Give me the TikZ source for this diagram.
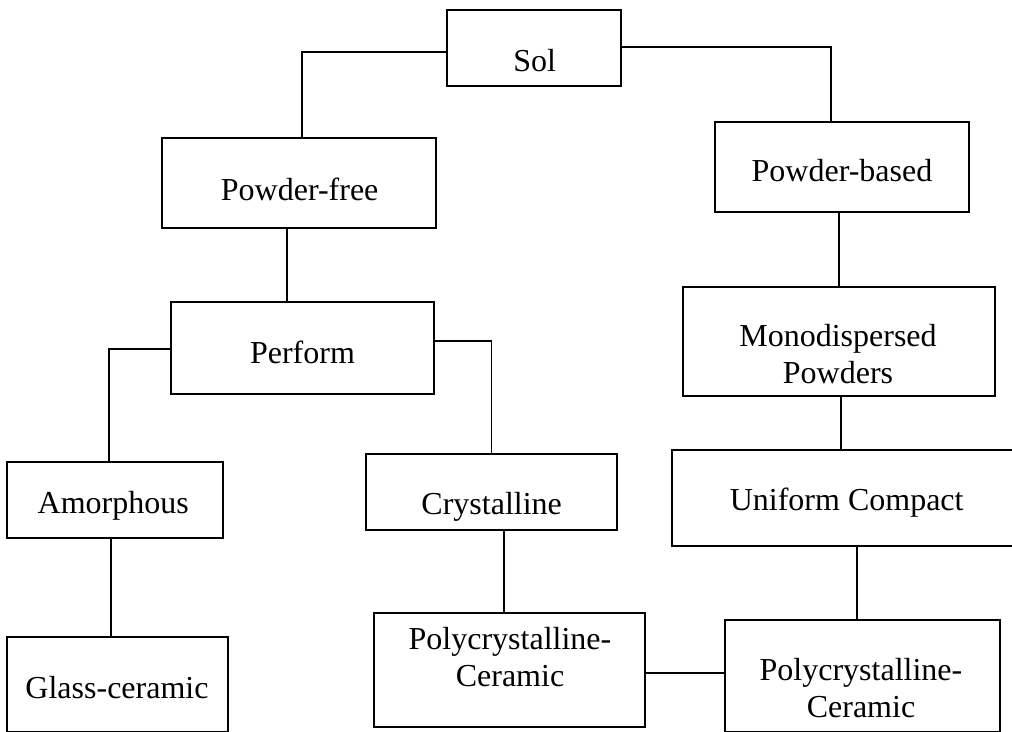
\documentclass[tikz,border=0pt]{standalone}
\usepackage{fontspec}
\setmainfont{Liberation Serif}
\begin{document}
\begin{tikzpicture}[x=1pt,y=-1pt,
  box/.style={draw, line width=1.7pt, inner sep=0pt, minimum width=#1},
  lbl/.style={font=\fontsize{32}{37}\selectfont, inner sep=0pt, anchor=base, align=center},
  conn/.style={line width=1.7pt}]
\useasboundingbox (0,0) rectangle (1012,731);
\clip (0,0) rectangle (1012,731);
\fill[white] (0,0) rectangle (1012,731);
% boxes
\node[box=174pt, minimum height=76pt]  (sol)     at (534,48) {};
\node[box=274pt, minimum height=90pt]  (pfree)   at (299,183) {};
\node[box=254pt, minimum height=90pt]  (pbased)  at (842,167) {};
\node[box=263pt, minimum height=92pt]  (perform) at (302.5,348) {};
\node[box=312pt, minimum height=109pt] (mono)    at (839,341.5) {};
\node[box=216pt, minimum height=76pt]  (amor)    at (115,500) {};
\node[box=251pt, minimum height=76pt]  (cryst)   at (491.5,492) {};
\node[box=350pt, minimum height=96pt]  (uniform) at (847,498) {};
\node[box=221pt, minimum height=95pt]  (glass)   at (117.5,684.5) {};
\node[box=271pt, minimum height=114pt] (polya)   at (509.5,670) {};
\node[box=275pt, minimum height=112pt] (polyb)   at (862.5,676) {};
% texts (anchor base = baseline of the last line)
\node[lbl] (tsol)     at (534.7,71)   {Sol};
\node[lbl] (tpfree)   at (299.7,200)  {Powder-free};
\node[lbl] (tpbased)  at (842,181.7)  {Powder-based};
\node[lbl] (tperform) at (302.5,363)  {Perform};
\node[lbl] (tmono)    at (838,383)    {Monodispersed\\Powders};
\node[lbl] (tamor)    at (113.3,513)  {Amorphous};
\node[lbl] (tcryst)   at (491.7,514)  {Crystalline};
\node[lbl] (tuniform) at (846.7,510.5){Uniform Compact};
\node[lbl] (tglass)   at (117,698)    {Glass-ceramic};
\node[lbl] (tpolya)   at (510,686)    {Polycrystalline-\\Ceramic};
\node[lbl] (tpolyb)   at (861,717)    {Polycrystalline-\\Ceramic};
% connectors
\draw[conn] ([yshift=-4pt]sol.west) -| ([xshift=3pt]pfree.north);
\draw[conn] ([yshift=1pt]sol.east) -| ([xshift=-11pt]pbased.north);
\draw[conn] ([xshift=-12pt]pfree.south) -- ([xshift=-12pt]pfree.south |- perform.north);
\draw[conn] ([yshift=-1pt]perform.west) -| ([xshift=-6pt]amor.north);
\draw[conn] ([yshift=7pt]perform.east) -| (cryst.north);
\draw[conn] ([xshift=-4pt]amor.south) -- ([xshift=-4pt]amor.south |- glass.north);
\draw[conn] ([xshift=12.5pt]cryst.south) -- ([xshift=12.5pt]cryst.south |- polya.north);
\draw[conn] ([xshift=-3pt]pbased.south) -- ([xshift=-3pt]pbased.south |- mono.north);
\draw[conn] ([xshift=2pt]mono.south) -- ([xshift=2pt]mono.south |- uniform.north);
\draw[conn] ([xshift=-5.5pt]polyb.north) -- ([xshift=-5.5pt]polyb.north |- uniform.south);
\draw[conn] ([yshift=-3pt]polya.east) -- ([yshift=-3pt]polya.east -| polyb.west);
\end{tikzpicture}
\end{document}
